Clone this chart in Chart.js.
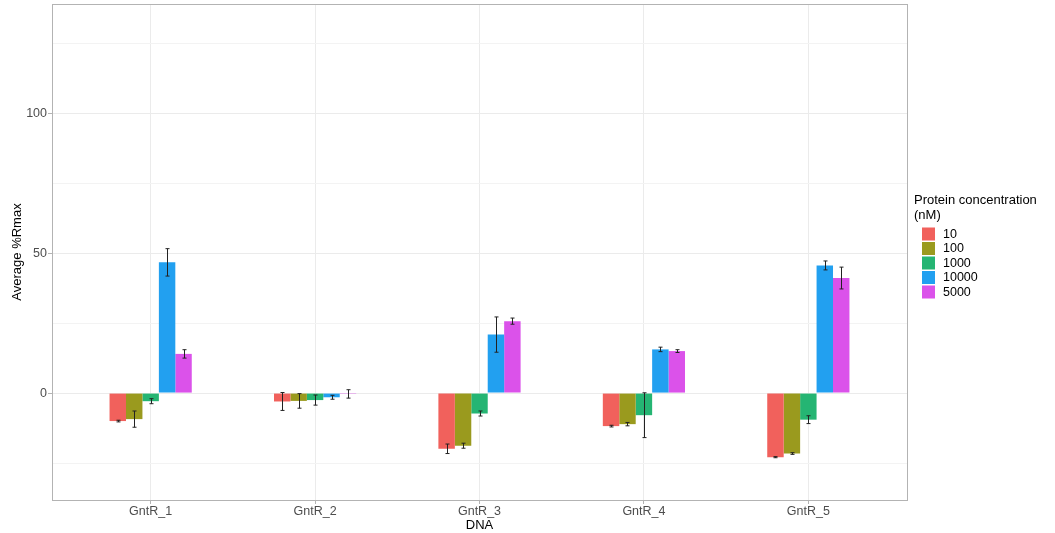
<!DOCTYPE html>
<html>
<head>
<meta charset="utf-8">
<script src="https://cdn.jsdelivr.net/npm/chart.js@4"></script>
<style>
  html, body { margin: 0; padding: 0; background: #ffffff; }
  canvas { display: block; }
</style>
</head>
<body>
<canvas id="c" width="1055" height="533"></canvas>
<script>
// ---- Data ----
const categories = ['GntR_1', 'GntR_2', 'GntR_3', 'GntR_4', 'GntR_5'];
const concentrations = ['10', '100', '1000', '10000', '5000'];
const values10    = [-10.0, -3.0, -19.9, -11.8, -22.9];
const errors10    = [0.3, 3.2, 1.7, 0.3, 0.2];
const values100   = [-9.3, -2.8, -18.8, -11.1, -21.6];
const errors100   = [2.9, 2.6, 0.9, 0.6, 0.3];
const values1000  = [-2.9, -2.5, -7.3, -7.9, -9.5];
const errors1000  = [0.9, 1.8, 0.9, 8.0, 1.4];
const values10000 = [46.7, -1.5, 20.9, 15.6, 45.6];
const errors10000 = [4.9, 0.7, 6.3, 0.8, 1.6];
const values5000  = [14.0, -0.3, 25.7, 15.0, 41.1];
const errors5000  = [1.5, 1.5, 1.1, 0.5, 3.9];
const yTickValues = [-25, 0, 25, 50, 75, 100, 125];
const yTitle = 'Average %Rmax';
const xTitle = 'DNA';
const legendTitle = ['Protein concentration', '(nM)'];

const seriesValues = [values10, values100, values1000, values10000, values5000];
const seriesErrors = [errors10, errors100, errors1000, errors10000, errors5000];
const colors = ['#F1615C', '#9A9A1E', '#25B573', '#22A0F0', '#DB52EA'];

Chart.defaults.font.family = "'Liberation Sans', Arial, sans-serif";

const datasets = concentrations.map((c, i) => ({
  label: c,
  data: categories.map((_, j) => ({ x: j + 1, y: seriesValues[i][j] })),
  errors: seriesErrors[i],
  backgroundColor: colors[i],
  borderWidth: 0,
  barPercentage: 1,
  categoryPercentage: 0.5
}));

const errorBarPlugin = {
  id: 'errorBars',
  afterDatasetsDraw(chart) {
    const ctx = chart.ctx;
    const y = chart.scales.y;
    ctx.save();
    ctx.strokeStyle = '#222';
    ctx.lineWidth = 1;
    chart.data.datasets.forEach((ds, i) => {
      const meta = chart.getDatasetMeta(i);
      meta.data.forEach((bar, j) => {
        const v = ds.data[j].y, e = ds.errors[j];
        const yt = y.getPixelForValue(v + e), yb = y.getPixelForValue(v - e);
        const x = Math.round(bar.x) + 0.5, cw = 2;
        ctx.beginPath();
        ctx.moveTo(x, yt); ctx.lineTo(x, yb);
        ctx.moveTo(x - cw, yt); ctx.lineTo(x + cw, yt);
        ctx.moveTo(x - cw, yb); ctx.lineTo(x + cw, yb);
        ctx.stroke();
      });
    });
    // panel border
    const a = chart.chartArea;
    ctx.strokeStyle = '#b3b3b3';
    ctx.lineWidth = 1;
    ctx.strokeRect(Math.round(a.left) + 0.5, Math.round(a.top) + 0.5,
                   Math.round(a.right - a.left), Math.round(a.bottom - a.top));
    ctx.restore();
  },
  afterDraw(chart) {
    const ctx = chart.ctx;
    ctx.save();
    ctx.fillStyle = '#000';
    ctx.textAlign = 'left';
    ctx.textBaseline = 'middle';
    ctx.font = "13px 'Liberation Sans', Arial, sans-serif";
    ctx.fillText(legendTitle[0], 914, 200);
    ctx.fillText(legendTitle[1], 914, 215);
    ctx.font = "12.5px 'Liberation Sans', Arial, sans-serif";
    chart.data.datasets.forEach((ds, i) => {
      const cy = 234 + i * 14.5;
      ctx.fillStyle = ds.backgroundColor;
      ctx.fillRect(922, cy - 6.5, 13, 13);
      ctx.fillStyle = '#000';
      ctx.fillText(ds.label, 943, cy + 0.5);
    });
    ctx.restore();
  }
};

new Chart(document.getElementById('c'), {
  type: 'bar',
  data: { datasets },
  plugins: [errorBarPlugin],
  options: {
    responsive: false,
    animation: false,
    devicePixelRatio: 1,
    layout: { padding: { left: 0, right: 148, top: 4, bottom: 0 } },
    plugins: { legend: { display: false }, tooltip: { enabled: false } },
    scales: {
      x: {
        type: 'linear',
        min: 0.4,
        max: 5.6,
        offset: false,
        afterBuildTicks(scale) { scale.ticks = categories.map((_, j) => ({ value: j + 1 })); },
        afterFit(scale) { scale.height = 33; scale.paddingLeft = 0; scale.paddingRight = 0; },
        ticks: {
          callback: (v) => categories[v - 1] ?? '',
          color: '#4d4d4d',
          font: { size: 12.5 },
          padding: 0,
          maxRotation: 0,
          autoSkip: false
        },
        grid: { offset: false, color: '#ebebeb', lineWidth: 1, drawTicks: true, tickLength: 4, tickColor: '#b3b3b3' },
        border: { display: false },
        title: { display: true, text: xTitle, color: '#000', font: { size: 13 }, padding: { top: 2, bottom: 0 } }
      },
      y: {
        type: 'linear',
        min: -38.2,
        max: 139,
        afterBuildTicks(scale) { scale.ticks = yTickValues.map(v => ({ value: v })); },
        afterFit(scale) { scale.width = 52; scale.paddingTop = 0; scale.paddingBottom = 0; },
        ticks: {
          callback: (v) => (v % 50 === 0 ? String(v) : ''),
          color: '#4d4d4d',
          font: { size: 12.5 },
          padding: 1
        },
        grid: {
          color: (c) => (c.tick && c.tick.value % 50 === 0 ? '#ebebeb' : '#f3f3f3'),
          lineWidth: 1,
          drawTicks: true,
          tickLength: 4,
          tickColor: (c) => (c.tick && c.tick.value % 50 === 0 ? '#b3b3b3' : 'rgba(0,0,0,0)')
        },
        border: { display: false },
        title: { display: true, text: yTitle, color: '#000', font: { size: 13 }, padding: { top: 10, bottom: 0 } }
      }
    }
  }
});
</script>
</body>
</html>
